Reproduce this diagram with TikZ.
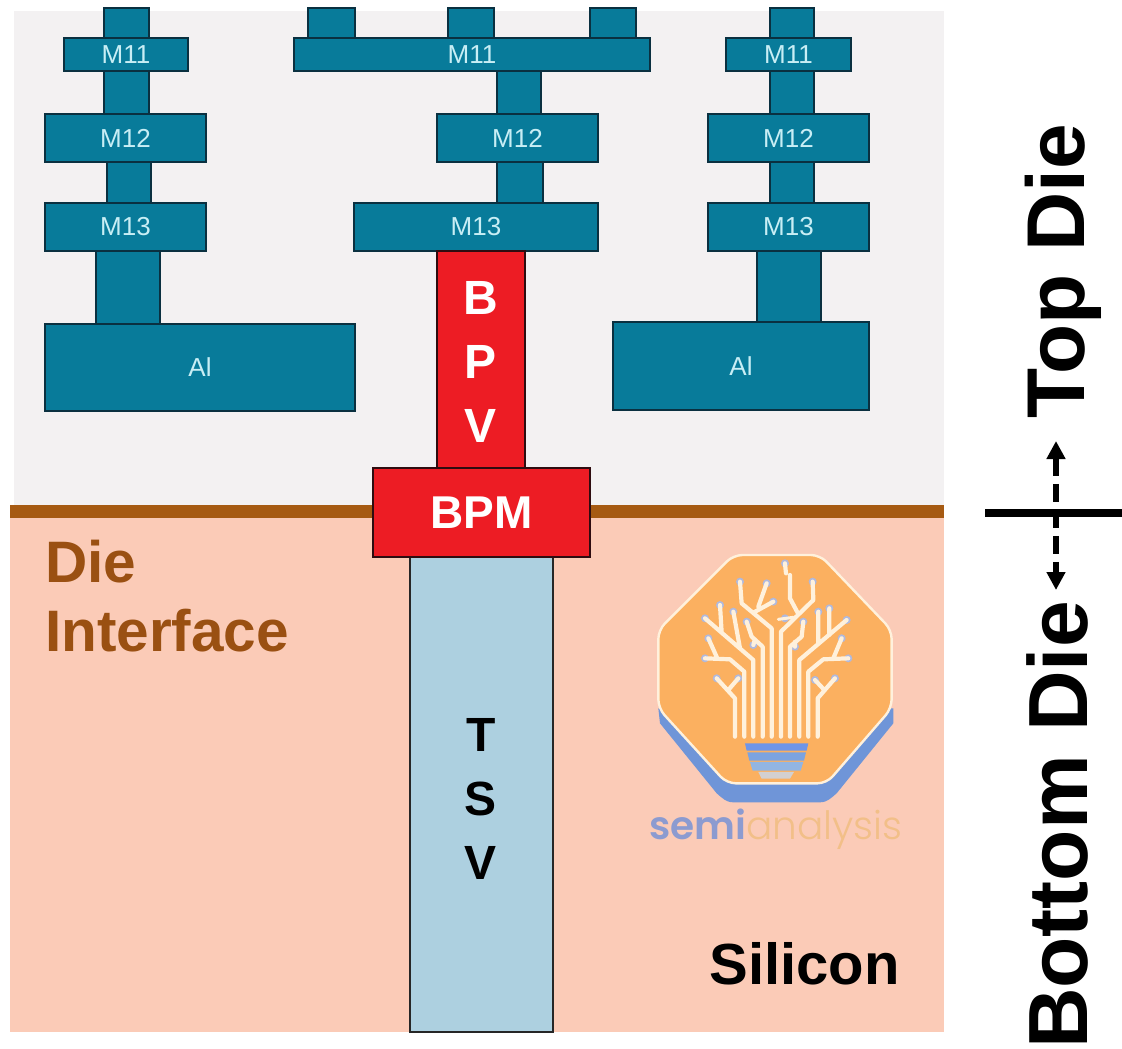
\documentclass[tikz,border=0pt]{standalone}
\usepackage{fontspec}
\setmainfont{Liberation Sans}
\newfontfamily\logofont[BoldFont={Poppins SemiBold}]{Poppins Light}
\usetikzlibrary{arrows.meta}
\definecolor{metalc}{HTML}{087B9A}
\definecolor{edgec}{HTML}{0A3040}
\definecolor{metaltxt}{HTML}{C8EEF5}
\definecolor{redc}{HTML}{ED1C24}
\definecolor{rededge}{HTML}{2E0C10}
\definecolor{tsvc}{HTML}{ADD0E0}
\definecolor{sic}{HTML}{FBCBB7}
\definecolor{topc}{HTML}{F3F1F2}
\definecolor{brownc}{HTML}{A65A12}
\definecolor{browntxt}{HTML}{9A5012}
\definecolor{logoo}{HTML}{FBB060}
\definecolor{logob}{HTML}{6F95D8}
\definecolor{logol}{HTML}{FFF1DC}
\definecolor{logot}{HTML}{F2BF88}
\definecolor{logos}{HTML}{8C9BD0}
\definecolor{baseA}{HTML}{6F95E8}
\definecolor{baseB}{HTML}{7CA3E0}
\definecolor{baseC}{HTML}{92B5E2}
\definecolor{baseD}{HTML}{D3D0D0}
\tikzset{
  metal/.style={draw=edgec,line width=2pt,fill=metalc,text=metaltxt,font=\fontsize{26}{26}\selectfont},
  redbox/.style={draw=rededge,line width=2.4pt,fill=redc,text=white,font=\bfseries\fontsize{46}{46}\selectfont},
  tsvbox/.style={draw=black!85,line width=2pt,fill=tsvc},
  stacklabel/.style={align=center,inner sep=0pt,font=\bfseries\fontsize{48}{64}\selectfont},
  brownlabel/.style={anchor=base west,inner sep=0pt,text=browntxt,font=\bfseries\fontsize{58.5}{60}\selectfont},
  sidelabel/.style={rotate=90,anchor=base,inner sep=0pt},
  tree/.style={draw=logol,line width=4.2pt,line cap=round,line join=round},
  tip/.style={fill=logos!70!white},
}
\newcommand{\rbox}[7]{%
  \pgfmathsetmacro{\rcx}{(#3+#5)/2}\pgfmathsetmacro{\rcy}{(#4+#6)/2}%
  \pgfmathsetmacro{\rw}{#5-#3}\pgfmathsetmacro{\rh}{#6-#4}%
  \node[#2,minimum width=\rw pt,minimum height=\rh pt,inner sep=0pt,outer sep=0pt] (#1) at (\rcx,\rcy) {#7};%
}
\begin{document}
\begin{tikzpicture}[x=1pt,y=-1pt]
\useasboundingbox (0,0) rectangle (1122,1049);
% backgrounds
\fill[topc] (14,11) rectangle (944,506);
\fill[sic] (10,515) rectangle (944,1032);
\fill[brownc] (10,505) rectangle (944,518);
% left column
\rbox{va}{metal}{104}{8}{149}{38}{}
\rbox{vb}{metal}{104}{71}{149}{114}{}
\rbox{vc}{metal}{107}{162}{151}{203}{}
\rbox{vd}{metal}{96}{251}{160}{324}{}
\rbox{la}{metal}{64}{38}{188}{71}{M11}
\rbox{lb}{metal}{45}{114}{206}{162}{M12}
\rbox{lc}{metal}{45}{203}{206}{251}{M13}
\rbox{ld}{metal}{45}{324}{355}{411}{Al}
% centre column
\rbox{ve}{metal}{308}{8}{355}{38}{}
\rbox{vf}{metal}{448}{8}{494}{38}{}
\rbox{vg}{metal}{590}{8}{636}{38}{}
\rbox{vh}{metal}{497}{71}{541}{114}{}
\rbox{vi}{metal}{497}{162}{543}{203}{}
\rbox{ca}{metal}{294}{38}{650}{71}{M11}
\rbox{cb}{metal}{437}{114}{598}{162}{M12}
\rbox{cc}{metal}{354}{203}{598}{251}{M13}
% right column
\rbox{vj}{metal}{770}{8}{814}{38}{}
\rbox{vk}{metal}{770}{71}{814}{114}{}
\rbox{vl}{metal}{770}{162}{814}{203}{}
\rbox{vm}{metal}{757}{251}{821}{322}{}
\rbox{ra}{metal}{726}{38}{851}{71}{M11}
\rbox{rb}{metal}{708}{114}{869}{162}{M12}
\rbox{rc}{metal}{708}{203}{869}{251}{M13}
\rbox{rd}{metal}{613}{322}{869}{410}{Al}
% TSV, BPV, BPM
\rbox{tsv}{tsvbox}{410}{557}{553}{1032}{}
\rbox{bpv}{redbox}{437}{251}{525}{468}{}
\rbox{bpm}{redbox}{373}{468}{590}{557}{BPM}
\node[stacklabel,text=white] (bpvtxt) at (481,362) {B\\P\\V};
\node[stacklabel,text=black] (tsvtxt) at (481,799) {T\\S\\V};
% labels
\node[brownlabel] (die) at (45,582) {Die};
\node[brownlabel] (iface) at (45,651) {Interface};
\node[anchor=base east,inner sep=0pt,font=\bfseries\fontsize{58}{60}\selectfont] (si) at (900,984) {Silicon};
\node[sidelabel,font=\bfseries\fontsize{82}{82}\selectfont] (topdie) at (1084,271) {Top Die};
\node[sidelabel,font=\bfseries\fontsize{84}{84}\selectfont] (botdie) at (1087,825) {Bottom Die};
% side marker
\coordinate (hl) at (985,513);
\coordinate (hr) at (1122,513);
\coordinate (vt) at (1056,441);
\coordinate (vbt) at (1056,590);
\draw[line width=8pt] (hl) -- (hr);
\draw[line width=5.5pt,dash pattern=on 18pt off 8pt,{Triangle[width=18pt,length=18pt]}-{Triangle[width=18pt,length=18pt]}] (vt) -- (vbt);
% logo
\begin{scope}[shift={(630,540)},x=0.3333pt,y=-0.3333pt]
  \fill[logob] (85,505) -- (90,550) -- (260,760) to[out=-40,in=180] (310,787) -- (570,787) to[out=0,in=220] (620,760) -- (790,550) -- (790,505) -- cycle;
  \draw[draw=logol,line width=2.4pt,fill=logoo,rounded corners=9pt] (310,45) -- (570,45) -- (785,270) -- (785,505) -- (590,730) -- (290,730) -- (85,505) -- (85,270) -- cycle;
  \foreach \p in {(260,415),(325,415),(225,355),(235,295),(225,235),(270,195),(310,215),(350,245),(370,315),(330,125),(410,130),(430,185),(465,70),(548,125),(465,235),(520,245),(495,320),(650,240),(598,205),(565,215),(635,295),(655,355),(615,415),(555,420)}
    \fill[tip] \p circle[radius=4pt];
  \draw[tree]
    (315,590) -- (315,475) -- (260,415) (295,450) -- (325,415)
    (343,590) -- (343,395) -- (300,358) -- (225,355) (262,355) -- (235,295)
    (370,590) -- (370,360) -- (225,235) (275,278) -- (270,195) (330,325) -- (310,215)
    (398,590) -- (398,320) -- (365,290) -- (350,245) (375,298) -- (370,315)
    (425,590) -- (425,265) -- (335,190) -- (330,125) (370,218) -- (430,185) (385,200) -- (410,130)
    (453,590) -- (453,275) -- (550,180) -- (548,125) (505,222) -- (480,175) -- (480,105) (465,70) -- (468,100)
    (480,590) -- (480,320) -- (515,290) -- (520,245) (495,305) -- (495,320)
    (508,590) -- (508,360) -- (650,240) (565,312) -- (565,215) (598,285) -- (598,205)
    (535,590) -- (535,395) -- (580,358) -- (655,355) (610,355) -- (635,295)
    (563,590) -- (563,475) -- (615,415) (583,450) -- (555,420);
  \draw[tree,line width=3pt] (445,238) -- (490,232);
  \fill[baseA] (345,610) -- (535,610) -- (530,632) -- (350,632) -- cycle;
  \fill[baseB] (352,637) -- (528,637) -- (522,662) -- (358,662) -- cycle;
  \fill[baseC] (360,666) -- (520,666) -- (512,692) -- (368,692) -- cycle;
  \fill[baseD] (385,696) -- (492,696) -- (480,716) -- (395,716) -- cycle;
\end{scope}
\node[anchor=base west,inner sep=0pt,font=\logofont\fontsize{39}{40}\selectfont] (logotext) at (649,839) {\textcolor{logos}{\textbf{semi}}\textcolor{logot}{analysis}};
\end{tikzpicture}
\end{document}
